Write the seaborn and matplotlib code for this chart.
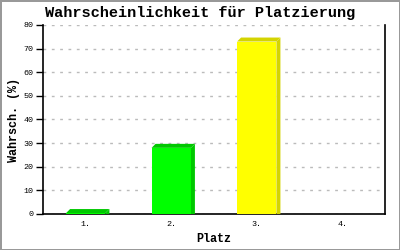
import matplotlib
matplotlib.use("Agg")
import matplotlib.pyplot as plt
import seaborn as sns
import pandas as pd
from matplotlib.patches import Polygon

places = ["1.", "2.", "3.", "4."]
probabilities = [0.4, 28, 73, 0]
front_colors = ["#00ff00", "#00ff00", "#ffff00", "#ffff00"]
side_colors = ["#00c800", "#00c800", "#d4d400", "#d4d400"]

title = "Wahrscheinlichkeit für Platzierung"
xlabel = "Platz"
ylabel = "Wahrsch. (%)"
yticks = [0, 10, 20, 30, 40, 50, 60, 70, 80]

sns.set_theme(style="white")
plt.rcParams['font.family'] = ['Liberation Mono', 'DejaVu Sans Mono']
plt.rcParams['text.color'] = 'black'
plt.rcParams['axes.labelcolor'] = 'black'
plt.rcParams['xtick.color'] = 'black'
plt.rcParams['ytick.color'] = 'black'

df = pd.DataFrame({"place": places, "prob": probabilities})

fig = plt.figure(figsize=(4, 2.5), dpi=100)
fig.patch.set_facecolor("white")
fig.patch.set_edgecolor("#999999")
fig.patch.set_linewidth(2)
ax = fig.add_axes([0.1075, 0.144, 0.855, 0.756])

sns.barplot(data=df, x="place", y="prob", hue="place", palette=front_colors,
            legend=False, width=0.46, ax=ax, saturation=1, linewidth=0, zorder=3)

ax.set_ylim(0, 80)
ax.set_xlim(-0.5, 3.5)
ax.set_yticks(yticks)
ax.set_yticklabels([str(v) for v in yticks], fontsize=6)
ax.tick_params(axis="y", length=5, width=1, color="black", direction="out", pad=2, left=True)
ax.tick_params(axis="x", length=0, pad=5, labelsize=6)
ax.yaxis.grid(True, linestyle=(0, (2, 4)), color="#bbbbbb", linewidth=1, zorder=0)
ax.set_axisbelow(True)

for side in ["left", "bottom", "right"]:
    ax.spines[side].set_visible(True)
    ax.spines[side].set_color("black")
    ax.spines[side].set_linewidth(1.2)
ax.spines["top"].set_visible(False)

fig.text(0.5, 0.948, title, fontsize=11, fontweight="bold", ha="center", va="center", color="black")
ax.set_xlabel(xlabel, fontsize=8.5, fontweight="bold", labelpad=4)
ax.set_ylabel(ylabel, fontsize=8.5, fontweight="bold", labelpad=2)

# 3D effect (side and top faces) derived from the drawn bars
d = 4
for patch, sc in zip(ax.patches, side_colors):
    h = patch.get_height()
    if h <= 0:
        continue
    x0 = patch.get_x()
    x1 = x0 + patch.get_width()
    (px0, py0) = ax.transData.transform((x0, 0))
    (px1, py1) = ax.transData.transform((x1, h))
    side = Polygon([(px1, py0), (px1 + d, py0), (px1 + d, py1 + d), (px1, py1)],
                   closed=True, transform=None, facecolor=sc, edgecolor="none", zorder=4)
    top = Polygon([(px0, py1), (px0 + d, py1 + d), (px1 + d, py1 + d), (px1, py1)],
                  closed=True, transform=None, facecolor=sc, edgecolor="none", zorder=4)
    ax.add_artist(side)
    ax.add_artist(top)

fig.savefig("out.png", dpi=100, facecolor=fig.get_facecolor(), edgecolor=fig.get_edgecolor())
